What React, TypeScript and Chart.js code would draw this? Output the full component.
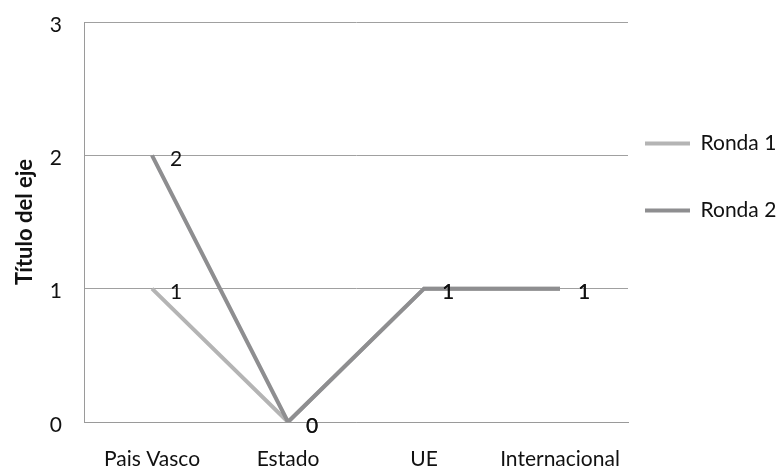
import React, { useEffect, useRef } from "react";
import { Chart, registerables } from "chart.js";

Chart.register(...registerables);

const categories = ["Pais Vasco", "Estado", "UE", "Internacional"];
const ronda1 = [1, 0, 1, 1];
const ronda2 = [2, 0, 1, 1];
const seriesNames = ["Ronda 1", "Ronda 2"];
const yMin = 0;
const yMax = 3;
const yStep = 1;
const yTitle = "Título del eje";

const FONT = "Lato, 'Open Sans', sans-serif";
const FS = 21;
const LEGEND_PAD = 46;

const valueLabels = {
  id: "valueLabels",
  afterDatasetsDraw(chart: any) {
    const ctx = chart.ctx;
    ctx.save();
    ctx.font = `${FS}px ${FONT}`;
    ctx.fillStyle = "#111";
    ctx.textAlign = "left";
    ctx.textBaseline = "middle";
    chart.data.datasets.forEach((ds: any, di: number) => {
      const meta = chart.getDatasetMeta(di);
      if (meta.hidden) return;
      meta.data.forEach((pt: any, i: number) => {
        ctx.fillText(String(ds.data[i]), pt.x + 18, pt.y + 4);
      });
    });
    ctx.restore();
  },
};

const legendPlacer = {
  id: "legendPlacer",
  afterLayout(chart: any) {
    const lg = chart.legend;
    const ca = chart.chartArea;
    if (!lg || !ca) return;
    lg.left = ca.right + 17 - LEGEND_PAD;
    const targetTop = ca.top + 111 - LEGEND_PAD;
    const dy = targetTop - lg.top;
    lg.top += dy;
    lg.bottom += dy;
  },
};

export default function App() {
  const ref = useRef<HTMLCanvasElement | null>(null);
  useEffect(() => {
    if (!ref.current) return;
    const chart = new Chart(ref.current, {
      type: "line",
      data: {
        labels: categories,
        datasets: [
          {
            label: seriesNames[0],
            data: ronda1,
            borderColor: "#b4b4b4",
            backgroundColor: "#b4b4b4",
            borderWidth: 4,
            pointRadius: 0,
            pointHoverRadius: 0,
            tension: 0,
            order: 1,
          },
          {
            label: seriesNames[1],
            data: ronda2,
            borderColor: "#8e8e90",
            backgroundColor: "#8e8e90",
            borderWidth: 4,
            pointRadius: 0,
            pointHoverRadius: 0,
            tension: 0,
            order: 0,
          },
        ],
      },
      options: {
        responsive: false,
        animation: false,
        layout: { padding: { top: 22, left: 0, right: 0, bottom: 0 } },
        plugins: {
          tooltip: { enabled: false },
          legend: {
            position: "right",
            align: "start",
            maxWidth: 148,
            labels: {
              boxWidth: 45,
              boxHeight: 0,
              padding: LEGEND_PAD,
              color: "#111",
              font: { family: FONT, size: FS },
              sort: (a: any, b: any) => a.datasetIndex - b.datasetIndex,
            },
          },
        },
        scales: {
          x: {
            offset: true,
            afterFit: (scale: any) => {
              scale.height = 46;
            },
            grid: { display: false, drawTicks: false },
            border: { display: true, color: "#9a9a9a", width: 1 },
            ticks: {
              padding: 25,
              color: "#111",
              font: { family: FONT, size: FS },
              maxRotation: 0,
              autoSkip: false,
            },
          },
          y: {
            min: yMin,
            max: yMax,
            afterFit: (scale: any) => {
              scale.width = 84;
              scale.paddingTop = 0;
              scale.paddingBottom = 0;
            },
            grid: { color: "#a0a0a0", lineWidth: 1, drawTicks: false },
            border: { display: true, color: "#9a9a9a", width: 1 },
            ticks: {
              stepSize: yStep,
              padding: 22,
              labelOffset: 3,
              color: "#111",
              font: { family: FONT, size: FS },
            },
            title: {
              display: true,
              text: yTitle,
              color: "#111",
              font: { family: FONT, size: 22, weight: "bold" },
              padding: { top: 12, bottom: 4 },
            },
          },
        },
      },
      plugins: [valueLabels, legendPlacer],
    });
    return () => chart.destroy();
  }, []);
  return (
    <div style={{ position: "absolute", left: 0, top: 0, width: 776, height: 468, background: "#fff" }}>
      <canvas ref={ref} width={776} height={468} style={{ display: "block" }} />
    </div>
  );
}
